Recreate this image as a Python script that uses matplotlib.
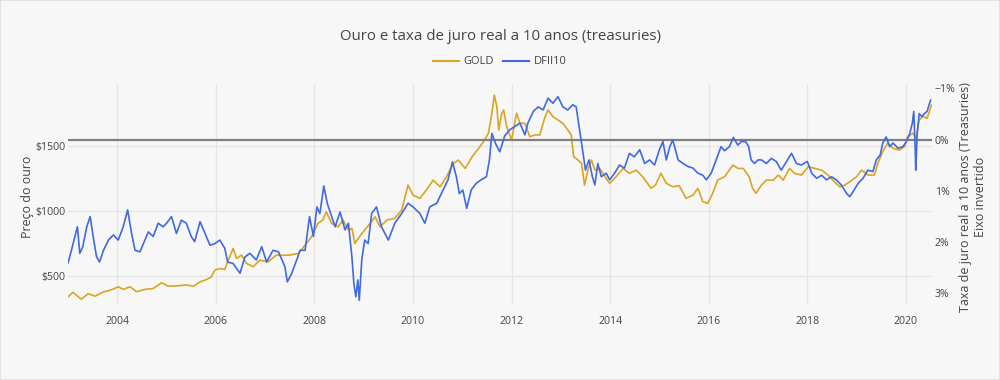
import matplotlib
matplotlib.use("Agg")
from matplotlib import pyplot as plt
from matplotlib.lines import Line2D

plt.rcParams['font.family'] = ['Open Sans', 'DejaVu Sans']

# preço do ouro (USD), ano decimal
gold_t = [2003.00, 2003.10, 2003.27, 2003.41, 2003.55, 2003.72, 2003.86, 2004.02, 2004.12, 2004.26,
          2004.39, 2004.56, 2004.73, 2004.90, 2005.03, 2005.20, 2005.40, 2005.55, 2005.68, 2005.81,
          2005.91, 2005.98, 2006.08, 2006.18, 2006.24, 2006.35, 2006.42, 2006.52, 2006.62, 2006.76,
          2006.89, 2007.06, 2007.23, 2007.37, 2007.50, 2007.67, 2007.81, 2007.94, 2008.07, 2008.17,
          2008.24, 2008.35, 2008.48, 2008.58, 2008.69, 2008.76, 2008.82, 2008.89, 2008.99, 2009.13,
          2009.23, 2009.33, 2009.47, 2009.63, 2009.77, 2009.90, 2010.00, 2010.14, 2010.27, 2010.41,
          2010.55, 2010.68, 2010.82, 2010.92, 2011.06, 2011.20, 2011.33, 2011.43, 2011.53, 2011.60,
          2011.65, 2011.70, 2011.74, 2011.80, 2011.84, 2011.90, 2012.00, 2012.10, 2012.17, 2012.27,
          2012.37, 2012.47, 2012.57, 2012.68, 2012.74, 2012.84, 2012.94, 2013.04, 2013.14, 2013.21,
          2013.26, 2013.35, 2013.42, 2013.48, 2013.55, 2013.62, 2013.69, 2013.79, 2013.99, 2014.12,
          2014.26, 2014.39, 2014.53, 2014.66, 2014.83, 2014.92, 2015.03, 2015.14, 2015.27, 2015.40,
          2015.54, 2015.68, 2015.78, 2015.88, 2015.98, 2016.08, 2016.18, 2016.32, 2016.49, 2016.59,
          2016.70, 2016.82, 2016.89, 2016.96, 2017.07, 2017.17, 2017.31, 2017.41, 2017.51, 2017.64,
          2017.74, 2017.88, 2018.02, 2018.15, 2018.29, 2018.42, 2018.55, 2018.66, 2018.76, 2018.86,
          2019.00, 2019.10, 2019.23, 2019.36, 2019.43, 2019.53, 2019.63, 2019.74, 2019.87, 2019.97,
          2020.04, 2020.14, 2020.21, 2020.27, 2020.35, 2020.43, 2020.52]
gold_usd = [341, 375, 323, 365, 346, 379, 392, 418, 398, 418,
            380, 398, 405, 449, 423, 425, 432, 423, 456, 474,
            495, 546, 559, 551, 610, 713, 636, 662, 598, 572,
            623, 610, 662, 660, 662, 674, 738, 802, 905, 931,
            995, 905, 879, 931, 854, 867, 751, 790, 841, 905,
            956, 879, 931, 944, 1008, 1200, 1123, 1098, 1162, 1238,
            1187, 1264, 1367, 1392, 1328, 1418, 1482, 1533, 1598, 1752,
            1892, 1802, 1623, 1752, 1777, 1649, 1546, 1752, 1675, 1675,
            1572, 1585, 1585, 1726, 1777, 1726, 1700, 1675, 1623, 1585,
            1418, 1392, 1367, 1200, 1315, 1392, 1315, 1325, 1213, 1264,
            1328, 1290, 1315, 1264, 1175, 1200, 1290, 1213, 1187, 1195,
            1098, 1123, 1175, 1072, 1059, 1136, 1238, 1264, 1354, 1328,
            1328, 1264, 1175, 1136, 1200, 1238, 1238, 1277, 1238, 1328,
            1290, 1277, 1341, 1328, 1315, 1277, 1225, 1187, 1200, 1225,
            1264, 1315, 1277, 1277, 1367, 1456, 1521, 1482, 1469, 1495,
            1572, 1598, 1560, 1700, 1726, 1713, 1815]

# DFII10 (%), ano decimal
dfii_t = [2003.00, 2003.07, 2003.19, 2003.24, 2003.30, 2003.38, 2003.45, 2003.51, 2003.58, 2003.64,
          2003.72, 2003.82, 2003.92, 2004.02, 2004.12, 2004.21, 2004.29, 2004.36, 2004.46, 2004.56,
          2004.63, 2004.73, 2004.83, 2004.93, 2005.00, 2005.10, 2005.20, 2005.30, 2005.40, 2005.50,
          2005.57, 2005.68, 2005.78, 2005.88, 2005.98, 2006.08, 2006.18, 2006.24, 2006.35, 2006.49,
          2006.59, 2006.69, 2006.82, 2006.93, 2007.03, 2007.16, 2007.27, 2007.40, 2007.45, 2007.54,
          2007.64, 2007.71, 2007.81, 2007.90, 2007.98, 2008.05, 2008.11, 2008.19, 2008.26, 2008.35,
          2008.42, 2008.52, 2008.62, 2008.69, 2008.76, 2008.80, 2008.84, 2008.88, 2008.91, 2008.96,
          2009.02, 2009.09, 2009.16, 2009.26, 2009.36, 2009.50, 2009.63, 2009.77, 2009.90, 2010.00,
          2010.14, 2010.24, 2010.34, 2010.48, 2010.61, 2010.71, 2010.80, 2010.88, 2010.94, 2011.01,
          2011.09, 2011.18, 2011.28, 2011.38, 2011.49, 2011.55, 2011.60, 2011.67, 2011.76, 2011.86,
          2011.96, 2012.06, 2012.17, 2012.27, 2012.33, 2012.44, 2012.54, 2012.64, 2012.74, 2012.84,
          2012.94, 2013.04, 2013.14, 2013.24, 2013.31, 2013.38, 2013.45, 2013.50, 2013.57, 2013.64,
          2013.69, 2013.75, 2013.82, 2013.92, 2013.99, 2014.09, 2014.19, 2014.29, 2014.39, 2014.49,
          2014.60, 2014.70, 2014.80, 2014.90, 2015.00, 2015.07, 2015.14, 2015.21, 2015.27, 2015.38,
          2015.48, 2015.58, 2015.68, 2015.78, 2015.88, 2015.95, 2016.05, 2016.15, 2016.25, 2016.32,
          2016.42, 2016.50, 2016.59, 2016.66, 2016.75, 2016.81, 2016.86, 2016.93, 2017.00, 2017.07,
          2017.17, 2017.27, 2017.37, 2017.47, 2017.58, 2017.68, 2017.78, 2017.88, 2018.00, 2018.09,
          2018.19, 2018.29, 2018.39, 2018.49, 2018.59, 2018.69, 2018.80, 2018.86, 2018.93, 2019.03,
          2019.13, 2019.23, 2019.33, 2019.40, 2019.48, 2019.53, 2019.60, 2019.67, 2019.74, 2019.84,
          2019.94, 2020.01, 2020.08, 2020.13, 2020.16, 2020.19, 2020.20, 2020.23, 2020.27, 2020.32,
          2020.38, 2020.43, 2020.50]
dfii_pct = [2.42, 2.17, 1.71, 2.23, 2.10, 1.71, 1.51, 1.90, 2.30, 2.40,
            2.17, 1.97, 1.87, 1.97, 1.71, 1.38, 1.84, 2.17, 2.20, 1.97,
            1.81, 1.90, 1.64, 1.71, 1.64, 1.51, 1.84, 1.58, 1.64, 1.90,
            2.00, 1.61, 1.84, 2.07, 2.04, 1.97, 2.13, 2.40, 2.43, 2.62,
            2.30, 2.23, 2.36, 2.10, 2.40, 2.17, 2.20, 2.49, 2.79, 2.62,
            2.36, 2.17, 2.17, 1.51, 1.90, 1.32, 1.45, 0.91, 1.25, 1.51,
            1.71, 1.42, 1.77, 1.64, 2.30, 2.82, 3.08, 2.75, 3.15, 2.36,
            1.97, 2.04, 1.45, 1.32, 1.71, 1.97, 1.64, 1.45, 1.25, 1.32,
            1.45, 1.64, 1.32, 1.25, 0.99, 0.79, 0.44, 0.73, 1.06, 0.99,
            1.35, 0.99, 0.86, 0.79, 0.73, 0.40, -0.12, 0.07, 0.24, -0.07,
            -0.19, -0.25, -0.32, -0.09, -0.32, -0.55, -0.64, -0.58, -0.81, -0.71,
            -0.84, -0.64, -0.58, -0.68, -0.64, -0.19, 0.27, 0.60, 0.40, 0.73,
            0.89, 0.47, 0.73, 0.66, 0.79, 0.66, 0.50, 0.56, 0.27, 0.34,
            0.20, 0.47, 0.40, 0.50, 0.20, 0.04, 0.40, 0.14, 0.01, 0.40,
            0.47, 0.53, 0.56, 0.66, 0.70, 0.79, 0.66, 0.40, 0.14, 0.22,
            0.14, -0.04, 0.11, 0.04, 0.04, 0.14, 0.40, 0.47, 0.40, 0.40,
            0.47, 0.37, 0.43, 0.60, 0.43, 0.27, 0.47, 0.50, 0.43, 0.66,
            0.76, 0.70, 0.79, 0.73, 0.79, 0.89, 1.06, 1.12, 1.02, 0.86,
            0.76, 0.60, 0.63, 0.40, 0.30, 0.07, -0.05, 0.14, 0.07, 0.17,
            0.14, 0.04, -0.12, -0.32, -0.55, 0.20, 0.60, -0.12, -0.51, -0.45,
            -0.51, -0.55, -0.77]

years = [2004, 2006, 2008, 2010, 2012, 2014, 2016, 2018, 2020]
gold_ticks = [500, 1000, 1500]
rate_ticks = [-1, 0, 1, 2, 3]

bg = '#f7f7f7'
txt = '#444444'
gold_c = '#DAA520'
blue_c = '#4169E1'

fig = plt.figure(figsize=(10, 3.8), dpi=100, facecolor=bg)
ax = fig.add_axes([0.068, 0.197, 0.864, 0.582])
ax.set_facecolor(bg)
ax2 = ax.twinx()

ax.plot(gold_t, gold_usd, color=gold_c, lw=1.2, zorder=3)
ax2.axhline(0, color='#7f7f7f', lw=1.6, zorder=1)
ax2.plot(dfii_t, dfii_pct, color=blue_c, lw=1.2, zorder=3)

ax.set_xlim(2003.0, 2020.53)
ax.set_ylim(277, 1977)
ax2.set_ylim(3.245, -1.088)

ax.set_xticks(years)
ax.set_xticklabels([str(y) for y in years])
ax.set_yticks(gold_ticks)
ax.set_yticklabels(['$' + str(v) for v in gold_ticks])
ax2.set_yticks(rate_ticks)
ax2.set_yticklabels([(str(v) if v >= 0 else '\u2212' + str(-v)) + '%' for v in rate_ticks])

ax.grid(True, color='#e6e6e6', lw=1)
ax.set_axisbelow(True)
for a in (ax, ax2):
    for s in a.spines.values():
        s.set_visible(False)
    a.tick_params(length=0, colors=txt, labelsize=7.6)
ax.tick_params(axis='x', pad=8)
ax.tick_params(axis='y', pad=2)
ax2.tick_params(axis='y', pad=2)

fig.text(0.5, 1 - 36 / 380, 'Ouro e taxa de juro real a 10 anos (treasuries)',
         ha='center', va='center', fontsize=10.8, color=txt)
fig.text(0.028, 1 - 197 / 380, 'Preço do ouro', rotation=90,
         ha='center', va='center', fontsize=8.9, color=txt)
fig.text(0.9735, 1 - 197 / 380, 'Taxa de juro real a 10 anos (Treasuries)\nEixo invertido',
         rotation=90, ha='center', va='center', multialignment='center',
         fontsize=9.0, color=txt, linespacing=1.2)

handles = [Line2D([], [], color=gold_c, lw=1.5), Line2D([], [], color=blue_c, lw=1.5)]
fig.legend(handles, ['GOLD', 'DFII10'], loc='center', bbox_to_anchor=(0.5, 1 - 62 / 380),
           ncol=2, frameon=False, fontsize=8, handlelength=2.3, handletextpad=0.45,
           columnspacing=0.8, labelcolor=txt)

fig.patches.append(plt.Rectangle((0, 0), 1, 1, transform=fig.transFigure,
                                 fill=False, edgecolor='#e2e2e2', lw=1.5))

fig.savefig('out.png', dpi=100, facecolor=bg)
